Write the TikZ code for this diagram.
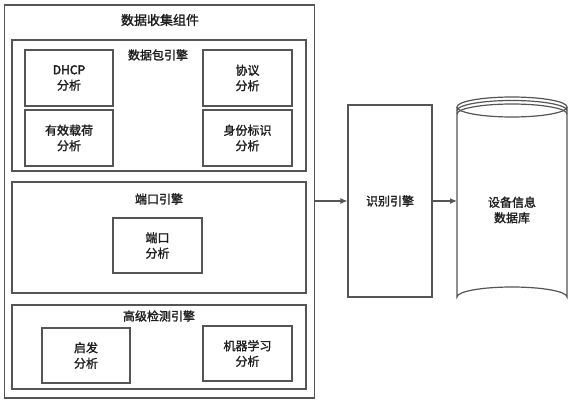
\documentclass[tikz,border=0pt]{standalone}
\usepackage{fontspec}
\newfontfamily\cjk{Noto Sans CJK SC}[FakeBold=1.6]
\newfontfamily\cjkheavy{Noto Sans CJK SC}[FakeBold=3.2]
\usetikzlibrary{arrows.meta}
\definecolor{linegray}{RGB}{85,85,85}
\definecolor{txt}{RGB}{30,30,30}
\tikzset{
  box/.style={draw=linegray, line width=1.2pt, rectangle, inner sep=0pt},
  lbl/.style={font=\cjk\fontsize{12}{15.5}\selectfont, text=txt, align=center, inner sep=0pt},
  ttl/.style={font=\cjk\fontsize{13}{15}\selectfont, text=txt, inner sep=0pt},
  conn/.style={draw=linegray, line width=1.2pt, -{Latex[length=7pt,width=6pt]}}
}
\begin{document}
\begin{tikzpicture}[x=1pt,y=-1pt]
\fill[white] (0,0) rectangle (573,404);
\useasboundingbox (0,0) rectangle (573,404);
% outer component
\node[box, minimum width=310pt, minimum height=393pt] (outer) at (159.5,201.5) {};
\node[ttl] (outert) at (160,20) {数据收集组件};
% packet engine
\node[box, minimum width=294pt, minimum height=131pt] (pkt) at (159,105.5) {};
\node[lbl] (pktt) at (158,55) {数据包引擎};
\node[box, lbl, minimum width=88pt, minimum height=56pt] (dhcp) at (69,78) {{\cjkheavy DHCP}\\分析};
\node[box, lbl, minimum width=89pt, minimum height=56pt] (proto) at (247.5,78) {协议\\分析};
\node[box, lbl, minimum width=88pt, minimum height=56pt] (payload) at (69,138) {有效载荷\\分析};
\node[box, lbl, minimum width=89pt, minimum height=56pt] (ident) at (247.5,138) {身份标识\\分析};
% port engine
\node[box, minimum width=294pt, minimum height=111pt] (port) at (159,237.5) {};
\node[lbl] (portt) at (159,199) {端口引擎};
\node[box, lbl, minimum width=89pt, minimum height=55pt] (porta) at (157.5,245.5) {端口\\分析};
% advanced detection engine
\node[box, minimum width=294pt, minimum height=84pt] (adv) at (159,347) {};
\node[lbl] (advt) at (159,316) {高级检测引擎};
\node[box, lbl, minimum width=88pt, minimum height=55pt] (heur) at (86,355.5) {启发\\分析};
\node[box, lbl, minimum width=89pt, minimum height=55pt] (ml) at (247.5,353.5) {机器学习\\分析};
% identification engine
\node[box, lbl, minimum width=84pt, minimum height=192pt] (idn) at (390,201) {识别引擎};
% database cylinder
\coordinate (dbw) at (457,201);
\draw[draw=linegray, line width=1.2pt, fill=white]
  (457,107) -- (457,297) arc[start angle=180, end angle=360, x radius=55, y radius=10]
  -- (567,107);
\draw[draw=linegray, line width=1.2pt] (512,107) ellipse[x radius=55, y radius=10];
\draw[draw=linegray, line width=1.2pt] (457,110.5) arc[start angle=180, end angle=360, x radius=55, y radius=10];
\draw[draw=linegray, line width=1.2pt] (457,114) arc[start angle=180, end angle=360, x radius=55, y radius=10];
\node[lbl] (db) at (512,210) {设备信息\\数据库};
% connectors
\draw[conn] (outer.east |- idn.west) -- (idn.west);
\draw[conn] (idn.east) -- (idn.east -| dbw);
\end{tikzpicture}
\end{document}
